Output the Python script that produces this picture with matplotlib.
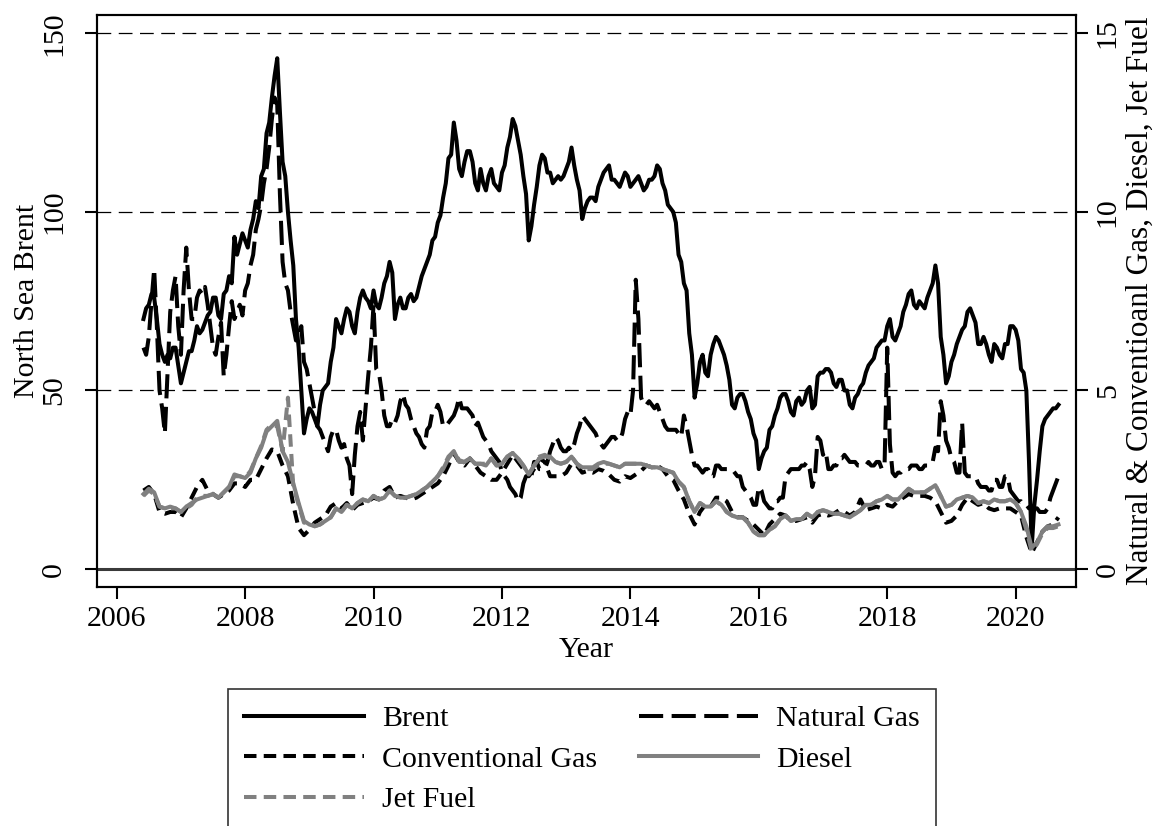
import numpy as np
import matplotlib
matplotlib.use("Agg")
import matplotlib.pyplot as plt

# values at the start of each month, Jun 2006 - Sep 2020
brent = [70, 74, 76, 63, 58, 59, 62,
         52, 58, 61, 68, 67, 71, 76, 71, 77, 82, 93, 91,
         92, 95, 103, 110, 122, 132, 143, 114, 100, 85, 62, 38,
         45, 42, 46, 51, 58, 70, 66, 73, 68, 72, 78, 75,
         78, 73, 80, 86, 70, 76, 73, 77, 76, 82, 86, 92,
         97, 104, 115, 125, 112, 114, 117, 108, 112, 106, 112, 107,
         111, 118, 126, 120, 110, 92, 102, 113, 115, 111, 109, 109,
         112, 118, 109, 98, 103, 104, 107, 111, 113, 109, 107, 111,
         107, 109, 108, 107, 109, 113, 108, 102, 100, 88, 80, 66,
         48, 58, 55, 60, 65, 62, 57, 46, 48, 49, 44, 38,
         28, 33, 39, 43, 48, 49, 44, 47, 46, 50, 45, 54,
         55, 56, 52, 53, 50, 46, 48, 51, 55, 58, 62, 64,
         68, 65, 66, 72, 77, 74, 75, 73, 78, 85, 65, 52,
         58, 63, 67, 72, 71, 63, 65, 60, 63, 60, 63, 68,
         67, 56, 50, 6, 25, 40, 43, 45, 46]
# mid-month values, Jun 2006 - Aug 2020
brent_mid = [73, 77, 70, 60, 60, 62, 57,
             55, 61, 64, 66, 69, 72, 76, 70, 78, 80, 88, 94,
             90, 98, 101, 112, 125, 138, 128, 110, 92, 70, 50, 42,
             44, 40, 50, 52, 62, 68, 70, 72, 66, 76, 76, 73,
             74, 76, 82, 83, 74, 73, 76, 75, 79, 84, 88, 93,
             99, 108, 116, 120, 110, 117, 114, 106, 108, 110, 108, 106,
             113, 121, 124, 116, 105, 96, 107, 116, 111, 108, 110, 110,
             114, 113, 106, 101, 104, 103, 109, 112, 109, 108, 109, 110,
             108, 110, 106, 109, 110, 112, 106, 101, 97, 86, 78, 60,
             52, 60, 54, 63, 64, 60, 53, 45, 49, 47, 42, 36,
             31, 34, 40, 45, 49, 47, 43, 48, 47, 51, 46, 55,
             56, 55, 51, 53, 50, 45, 49, 52, 57, 59, 63, 64,
             70, 64, 68, 74, 78, 73, 74, 76, 80, 80, 60, 54,
             60, 65, 68, 73, 69, 63, 63, 58, 62, 59, 63, 68,
             64, 55, 30, 18, 33, 42, 44, 45]

nat_gas = [6.2, 6.5, 8.4, 5.0, 3.8, 7.2, 8.2,
           6.0, 9.0, 7.0, 7.6, 7.7, 7.4, 6.2, 6.5, 5.4, 6.8, 7.0, 7.4,
           7.8, 8.5, 9.5, 10.2, 11.2, 12.6, 13.0, 8.6, 7.8, 6.8, 6.5, 5.8,
           5.2, 4.4, 3.9, 3.5, 3.7, 3.9, 3.4, 3.1, 2.1, 4.0, 3.6, 5.4,
           7.4, 5.5, 4.3, 4.0, 4.1, 4.7, 4.6, 4.2, 3.8, 3.5, 3.9, 4.4,
           4.6, 4.0, 4.1, 4.3, 4.8, 4.5, 4.4, 4.0, 3.9, 3.6, 3.3, 3.1,
           2.7, 2.5, 2.2, 1.9, 2.4, 2.5, 3.0, 2.8, 2.8, 3.3, 3.7, 3.4,
           3.3, 3.3, 3.8, 4.3, 4.1, 3.9, 3.6, 3.4, 3.6, 3.7, 3.6, 4.2,
           4.3, 8.1, 4.8, 4.6, 4.6, 4.6, 4.2, 3.9, 3.9, 3.8, 4.3, 3.6,
           2.9, 2.8, 2.8, 2.6, 2.9, 2.8, 2.8, 2.8, 2.6, 2.3, 2.1, 1.8,
           2.3, 1.9, 1.7, 1.9, 2.0, 2.6, 2.8, 2.8, 2.9, 3.0, 2.3, 3.7,
           3.2, 2.8, 2.9, 3.1, 3.2, 3.0, 3.0, 2.9, 2.9, 2.9, 3.0, 2.8,
           6.2, 2.7, 2.7, 2.8, 2.8, 2.9, 2.8, 2.9, 3.0, 3.4, 4.7, 3.6,
           3.1, 2.7, 4.1, 2.6, 2.6, 2.4, 2.3, 2.2, 2.5, 2.3, 2.6, 2.2,
           2.0, 1.9, 1.8, 1.7, 1.7, 1.6, 1.7, 2.2, 2.6]
nat_gas_mid = [6.0, 7.5, 6.8, 4.5, 5.5, 7.8, 6.8,
               7.8, 7.8, 7.0, 7.8, 7.9, 6.8, 6.0, 6.9, 6.0, 7.5, 7.2, 7.1,
               8.0, 8.8, 9.8, 10.8, 11.8, 13.2, 10.5, 8.0, 7.2, 6.4, 6.8, 5.6,
               4.8, 4.0, 3.7, 3.3, 3.9, 3.6, 3.5, 2.9, 3.2, 4.4, 4.5, 6.2,
               5.6, 5.0, 4.0, 4.2, 4.3, 4.9, 4.5, 4.0, 3.7, 3.4, 4.0, 4.4,
               4.4, 4.0, 4.2, 4.5, 4.5, 4.5, 4.3, 4.1, 3.7, 3.5, 3.2, 3.0,
               2.6, 2.3, 2.1, 2.0, 2.6, 2.6, 3.0, 2.8, 3.0, 3.5, 3.6, 3.3,
               3.4, 3.5, 4.0, 4.2, 4.0, 3.8, 3.5, 3.5, 3.7, 3.6, 3.8, 4.4,
               5.0, 7.0, 4.6, 4.7, 4.5, 4.4, 4.0, 3.9, 3.9, 3.7, 4.0, 3.2,
               2.9, 2.7, 2.8, 2.6, 2.9, 2.8, 2.8, 2.7, 2.6, 2.2, 2.0, 1.8,
               2.2, 1.8, 1.7, 1.9, 2.0, 2.7, 2.8, 2.8, 2.9, 2.8, 2.6, 3.6,
               3.3, 2.8, 2.9, 3.1, 3.1, 3.0, 2.9, 2.9, 3.0, 2.9, 3.0, 2.9,
               3.5, 2.6, 2.7, 2.8, 2.9, 2.9, 2.8, 2.9, 3.0, 3.3, 4.3, 3.4,
               3.0, 2.7, 2.7, 2.6, 2.6, 2.3, 2.3, 2.2, 2.5, 2.3, 2.6, 2.1,
               1.9, 1.8, 1.7, 1.7, 1.6, 1.6, 2.0, 2.4]

conv_gas = [2.2, 2.3, 2.1, 1.6, 1.55, 1.6, 1.6,
            1.45, 1.7, 2.0, 2.3, 2.5, 2.2, 2.1, 2.0, 2.1, 2.2, 2.4, 2.4,
            2.3, 2.5, 2.5, 2.8, 3.1, 3.35, 3.3, 2.9, 2.6, 1.8, 1.15, 0.95,
            1.1, 1.3, 1.4, 1.5, 1.75, 1.85, 1.7, 1.85, 1.65, 1.8, 1.85, 1.9,
            2.0, 1.95, 2.2, 2.3, 2.0, 2.05, 2.0, 1.95, 2.0, 2.1, 2.2, 2.3,
            2.4, 2.6, 2.9, 3.25, 3.0, 2.9, 3.1, 2.9, 2.7, 2.6, 2.5, 2.5,
            2.7, 2.95, 3.2, 3.0, 2.8, 2.6, 2.8, 3.1, 3.0, 2.6, 2.6, 2.6,
            2.7, 2.95, 2.9, 2.7, 2.75, 2.7, 2.8, 2.75, 2.65, 2.5, 2.45, 2.6,
            2.55, 2.65, 2.75, 2.9, 2.85, 2.9, 2.8, 2.6, 2.5, 2.2, 1.95, 1.55,
            1.25, 1.6, 1.8, 1.75, 2.0, 2.0, 1.9, 1.6, 1.45, 1.45, 1.35, 1.25,
            1.1, 0.95, 1.25, 1.4, 1.55, 1.5, 1.35, 1.35, 1.4, 1.45, 1.3, 1.5,
            1.55, 1.5, 1.55, 1.65, 1.6, 1.5, 1.6, 1.95, 1.65, 1.7, 1.75, 1.7,
            1.8, 1.75, 1.9, 2.0, 2.1, 2.05, 2.05, 2.05, 2.0, 1.9, 1.6, 1.3,
            1.35, 1.5, 1.8, 2.0, 1.9, 1.8, 1.85, 1.7, 1.65, 1.7, 1.7, 1.7,
            1.6, 1.5, 0.9, 0.45, 0.75, 1.05, 1.2, 1.25, 1.45]

diesel = [2.1, 2.25, 2.15, 1.75, 1.7, 1.75, 1.7,
          1.6, 1.75, 1.85, 1.95, 2.0, 2.05, 2.1, 2.0, 2.15, 2.3, 2.65, 2.6,
          2.55, 2.7, 3.1, 3.4, 3.85, 4.0, 4.15, 3.3, 3.0, 2.4, 1.85, 1.35,
          1.25, 1.2, 1.25, 1.35, 1.45, 1.7, 1.6, 1.8, 1.7, 1.85, 1.95, 1.9,
          2.05, 1.95, 2.0, 2.2, 2.05, 2.0, 2.0, 2.05, 2.1, 2.2, 2.3, 2.45,
          2.6, 2.8, 3.1, 3.3, 3.0, 3.0, 3.1, 2.95, 2.95, 2.9, 3.1, 2.9,
          2.95, 3.15, 3.25, 3.1, 2.9, 2.65, 2.9, 3.1, 3.15, 3.15, 3.0, 2.95,
          3.0, 3.15, 2.95, 2.85, 2.85, 2.85, 2.95, 3.0, 2.95, 2.9, 2.85, 2.95,
          2.95, 2.95, 2.95, 2.9, 2.85, 2.85, 2.8, 2.75, 2.7, 2.45, 2.3, 1.9,
          1.6, 1.85, 1.75, 1.75, 1.9, 1.8, 1.6, 1.5, 1.45, 1.45, 1.3, 1.05,
          0.95, 0.95, 1.1, 1.2, 1.4, 1.5, 1.35, 1.4, 1.4, 1.55, 1.45, 1.6,
          1.65, 1.6, 1.55, 1.55, 1.5, 1.45, 1.55, 1.65, 1.8, 1.8, 1.9, 1.95,
          2.05, 1.95, 1.95, 2.1, 2.25, 2.15, 2.15, 2.15, 2.25, 2.35, 2.05, 1.75,
          1.8, 1.95, 2.0, 2.05, 2.0, 1.85, 1.9, 1.85, 1.95, 1.9, 1.9, 1.95,
          1.85, 1.6, 1.2, 0.6, 0.75, 1.05, 1.2, 1.2, 1.25]

jet_fuel = [2.05, 2.2, 2.1, 1.75, 1.7, 1.7, 1.7,
            1.6, 1.7, 1.8, 2.0, 2.05, 2.05, 2.1, 2.0, 2.15, 2.3, 2.6, 2.6,
            2.55, 2.75, 3.1, 3.45, 3.9, 4.05, 4.0, 3.3, 4.8, 2.3, 1.8, 1.3,
            1.3, 1.2, 1.25, 1.35, 1.45, 1.7, 1.6, 1.8, 1.7, 1.85, 1.95, 1.9,
            2.05, 1.95, 2.0, 2.2, 2.05, 2.0, 2.0, 2.05, 2.1, 2.2, 2.3, 2.45,
            2.6, 2.85, 3.15, 3.3, 3.05, 3.0, 3.1, 2.95, 2.95, 2.95, 3.1, 2.9,
            2.95, 3.15, 3.25, 3.1, 2.9, 2.65, 2.9, 3.15, 3.2, 3.1, 3.0, 2.95,
            3.0, 3.15, 2.95, 2.8, 2.8, 2.8, 2.9, 2.95, 2.95, 2.9, 2.85, 2.95,
            2.95, 2.95, 2.95, 2.9, 2.85, 2.85, 2.8, 2.75, 2.7, 2.45, 2.3, 1.9,
            1.6, 1.85, 1.75, 1.75, 1.9, 1.8, 1.6, 1.5, 1.45, 1.45, 1.3, 1.05,
            0.95, 0.95, 1.1, 1.2, 1.4, 1.5, 1.35, 1.4, 1.4, 1.55, 1.45, 1.6,
            1.65, 1.6, 1.55, 1.55, 1.5, 1.45, 1.55, 1.65, 1.8, 1.8, 1.9, 1.95,
            2.05, 1.95, 1.95, 2.1, 2.25, 2.15, 2.15, 2.15, 2.25, 2.35, 2.05, 1.75,
            1.8, 1.95, 2.0, 2.05, 2.0, 1.85, 1.9, 1.85, 1.95, 1.9, 1.9, 1.95,
            1.85, 1.6, 1.1, 0.5, 0.7, 1.0, 1.15, 1.15, 1.2]

n = len(brent)
year = 2006 + (5 + np.arange(n)) / 12.0
year_half = 2006 + (5 + np.arange(2 * n - 1) / 2.0) / 12.0


def weave(start, mid):
    out = np.empty(2 * len(start) - 1)
    out[0::2] = start
    out[1::2] = mid
    return out


plt.rcParams['font.family'] = ['Liberation Serif', 'DejaVu Serif']
fs = 21.5
gray = '#808080'
lw = 2.9

fig = plt.figure(figsize=(11.54, 8.26), dpi=100)
ax = fig.add_axes([97/1154, 1 - 587/826, (1076 - 97)/1154, (587 - 15)/826])
ax2 = ax.twinx()

for v in (50, 100, 150):
    ax.axhline(v, color='black', lw=0.9, dashes=(11, 6), zorder=1)
ax.axhline(0, color='#3a3a3a', lw=2.2, zorder=1)

l1, = ax.plot(year_half, weave(brent, brent_mid), color='black', lw=lw, zorder=3)
l2, = ax2.plot(year_half, weave(nat_gas, nat_gas_mid), color='black', lw=lw, dashes=(6, 2.1))
l3, = ax2.plot(year, conv_gas, color='black', lw=lw, dashes=(3.1, 1.8))
l4, = ax2.plot(year, diesel, color=gray, lw=lw)
l5, = ax2.plot(year, jet_fuel, color=gray, lw=lw, dashes=(3.1, 1.8))

ax.set_xlim(2005.693, 2020.94)
ax.set_ylim(-5.0, 155.1)
ax2.set_ylim(-0.50, 15.51)
ax.set_xticks(range(2006, 2021, 2))
ax.set_yticks([0, 50, 100, 150])
ax2.set_yticks([0, 5, 10, 15])

for a in (ax, ax2):
    for s in a.spines.values():
        s.set_linewidth(1.5)
    a.tick_params(labelsize=fs, width=1.5, length=8.5)
ax.tick_params(axis='y', labelrotation=90, pad=13)
ax.tick_params(axis='x', pad=5)
ax2.tick_params(axis='y', labelrotation=90, pad=5)
for t in ax.get_yticklabels() + ax2.get_yticklabels():
    t.set_va('center')

ax.set_xlabel('Year', fontsize=fs, labelpad=4)
ax.set_ylabel('North Sea Brent', fontsize=fs, labelpad=1)
ax2.set_ylabel('Natural & Conventioanl Gas, Diesel, Jet Fuel', fontsize=22.5, labelpad=4)

# column-major fill: left column Brent / Conventional Gas / Jet Fuel
leg = fig.legend([l1, l3, l5, l2, l4],
                 ['Brent', 'Conventional Gas', 'Jet Fuel', 'Natural Gas', 'Diesel'],
                 ncol=2, loc='upper left', bbox_to_anchor=(228/1154, 1 - 689/826),
                 borderaxespad=0, fontsize=fs, frameon=True, fancybox=False,
                 edgecolor='black', handlelength=4.0, handletextpad=0.6,
                 columnspacing=1.4, borderpad=0.55, labelspacing=0.45)
leg.get_frame().set_linewidth(1.2)

fig.savefig('out.png', dpi=100)
